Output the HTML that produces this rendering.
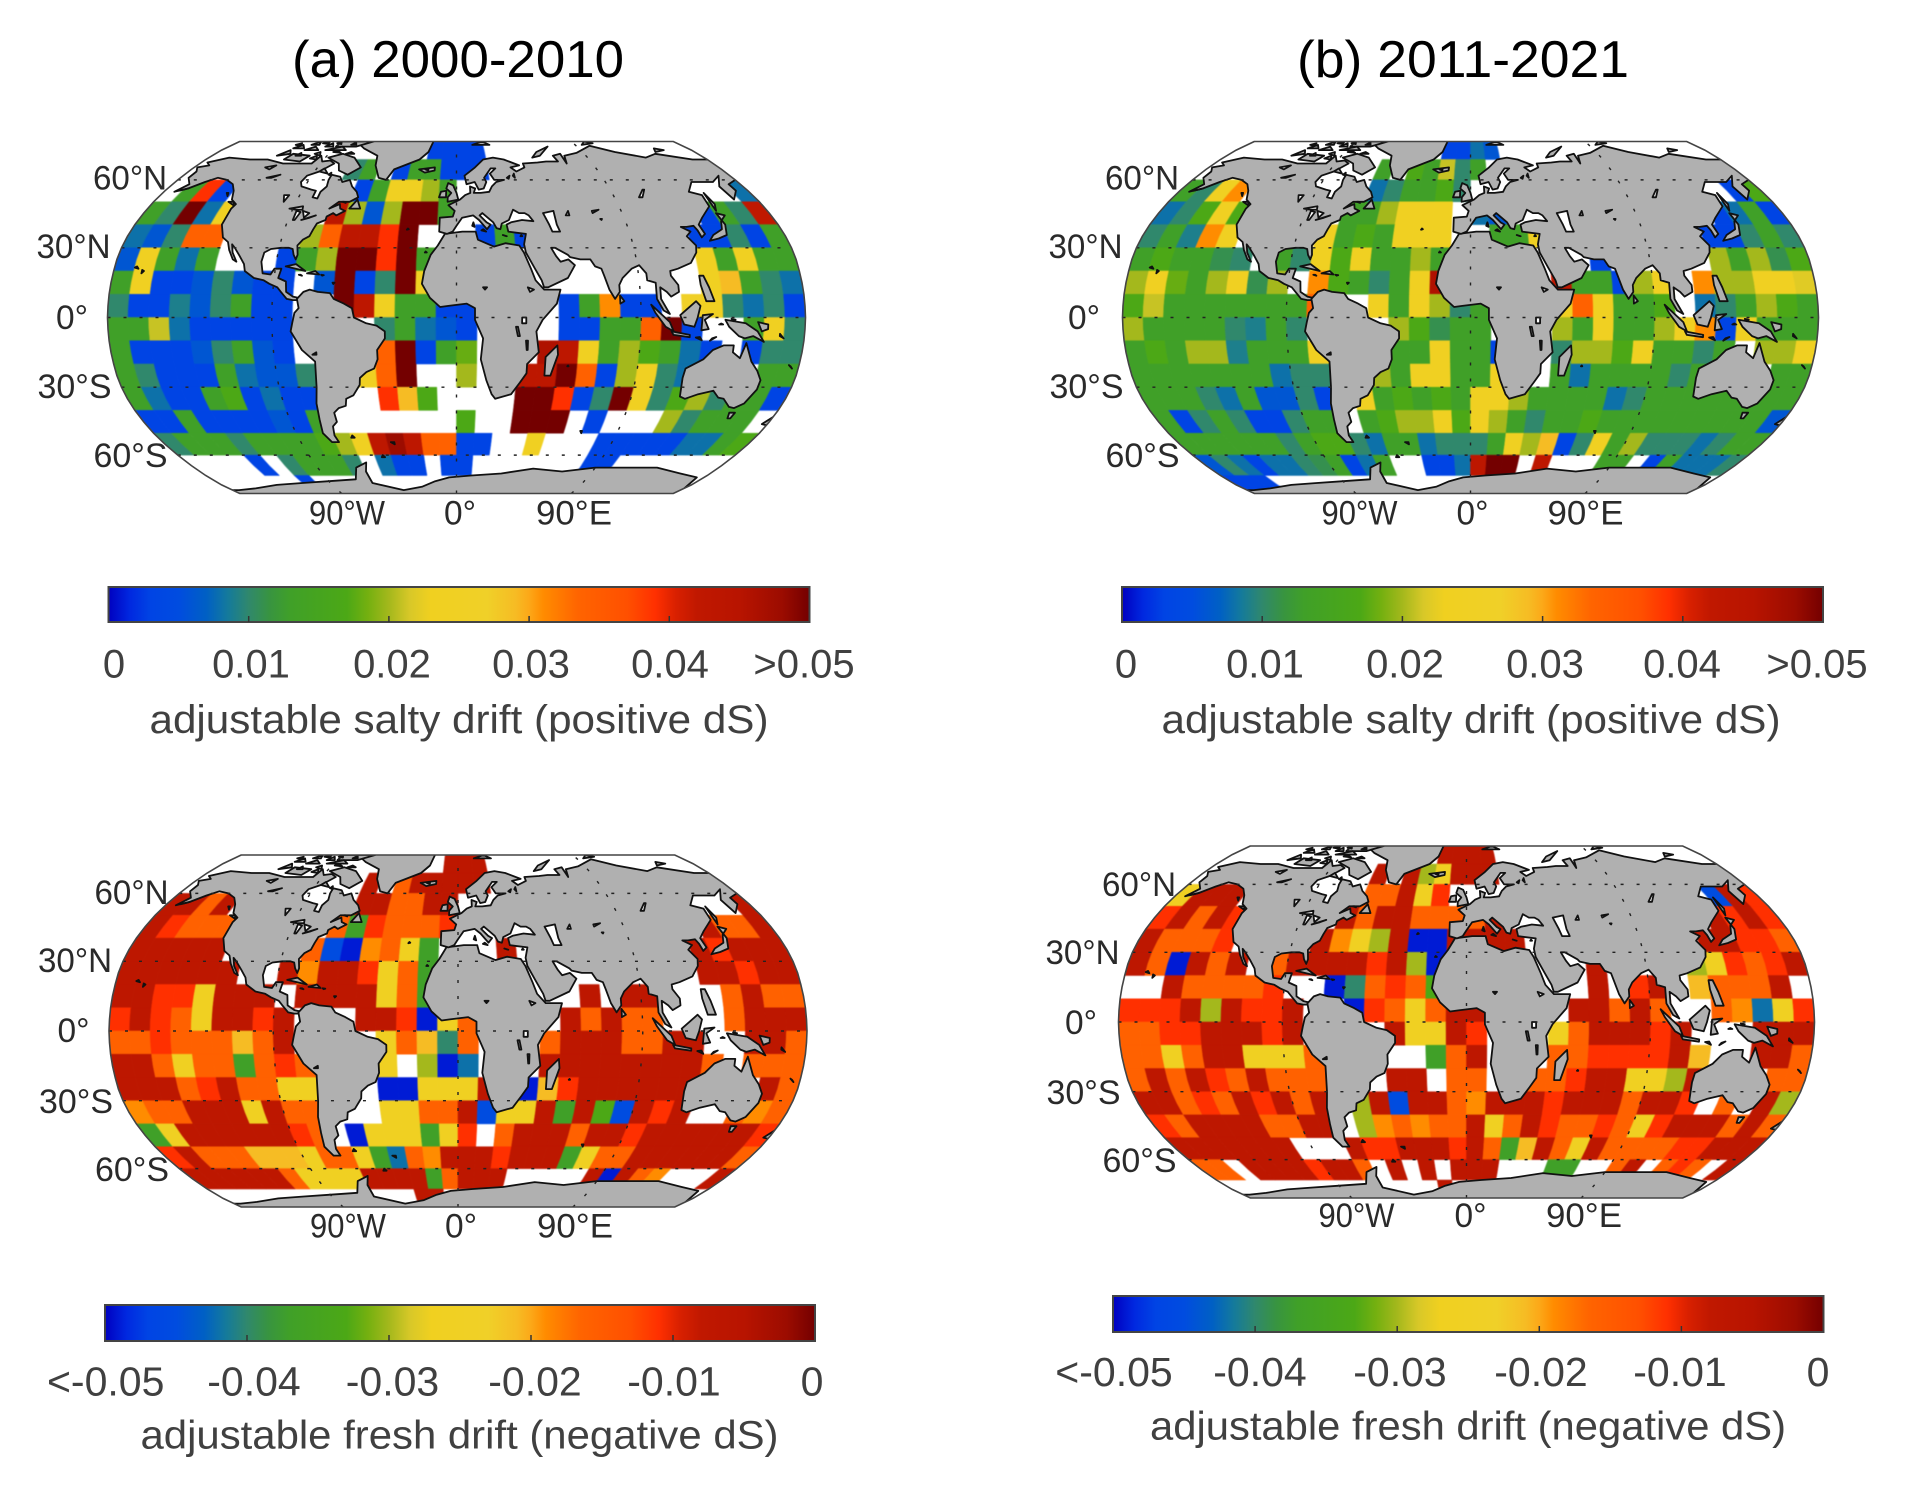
<!DOCTYPE html>
<html lang="en">
<head>
<meta charset="utf-8">
<title>Adjustable salinity drift maps</title>
<style>
html,body{margin:0;padding:0;background:#fff;}
svg{display:block;}
text{font-family:"Liberation Sans",Arial,sans-serif;}
</style>
</head>
<body>
<svg id="chart" width="1906" height="1496" viewBox="0 0 1906 1496" xmlns="http://www.w3.org/2000/svg">
<defs id="defs"></defs>
<text x="458" y="77" font-size="52" fill="#000" text-anchor="middle" textLength="332" lengthAdjust="spacingAndGlyphs">(a) 2000-2010</text>
<text x="1463" y="77" font-size="52" fill="#000" text-anchor="middle" textLength="332" lengthAdjust="spacingAndGlyphs">(b) 2011-2021</text>
</svg>
<script>
// Cell values in units of 0.001 salinity drift. Rows run 80N to 80S in 10 degree bands, 34 longitude columns from 170W to 170E.
const salty2000 = [
[null,null,null,null,null,null,null,null,null,null,null,null,null,null,null,3,3,3,3,null,null,null,null,null,null,null,null,null,null,null,null,null,null,null],
[null,null,null,null,null,null,null,null,null,null,10,13,null,3,13,13,3,3,3,null,null,null,null,null,null,null,null,null,null,null,null,null,null,null],
[null,13,39,3,null,null,null,null,null,null,null,3,13,24,24,20,13,null,null,null,null,null,null,null,null,null,null,null,null,null,null,null,null,8],
[13,10,50,8,24,null,null,null,null,null,43,20,6,20,50,50,13,null,null,null,null,null,null,null,null,null,null,null,null,null,3,13,10,42],
[8,6,10,34,34,null,null,null,null,20,34,43,43,39,50,null,null,null,3,13,3,null,null,null,null,null,null,null,null,3,3,10,3,13],
[6,24,13,8,13,null,null,null,3,13,20,50,50,39,50,13,null,null,null,null,null,null,null,null,null,null,null,null,null,24,13,24,13,13],
[13,24,3,3,6,10,6,3,3,null,6,50,3,10,50,24,null,null,null,null,null,null,null,null,null,null,null,null,null,24,29,13,10,8],
[10,3,3,9,6,10,13,3,3,null,null,50,43,24,13,13,3,3,null,null,null,null,3,13,31,3,3,null,27,24,10,8,10,3],
[13,13,21,8,3,3,3,3,3,null,null,null,null,10,13,8,6,3,null,null,null,null,3,3,13,13,34,50,3,null,null,13,24,10],
[13,3,3,3,6,10,13,6,3,null,null,null,null,34,50,3,13,18,null,null,null,46,43,24,13,20,17,13,8,3,null,3,10,10],
[13,10,3,3,3,13,8,6,6,10,null,null,24,34,50,null,null,20,null,null,43,43,50,34,3,20,24,10,8,null,null,null,13,13],
[13,8,3,3,13,17,3,8,3,3,null,null,null,39,29,17,null,null,null,null,50,50,39,3,10,50,24,10,17,20,10,13,13,3],
[3,3,13,3,3,3,3,6,3,13,null,null,null,null,null,null,null,17,null,null,50,50,50,null,3,null,null,null,20,10,13,13,13,null],
[10,13,13,13,10,13,13,13,13,17,20,24,43,48,43,34,34,3,3,null,null,24,null,null,null,3,3,3,3,3,8,8,13,17],
[null,null,null,null,3,null,10,13,13,13,10,null,8,3,3,null,3,3,null,null,null,null,null,null,null,3,3,null,null,null,null,null,null,null],
[null,null,null,null,null,null,3,null,null,null,null,null,null,null,null,null,null,null,null,null,null,null,null,null,null,null,null,null,null,null,null,null,null,null]
];
const salty2011 = [
[null,null,null,null,null,null,null,null,null,null,null,null,null,null,null,3,3,8,6,null,null,null,null,null,null,null,null,null,null,null,null,null,null,null],
[null,null,null,null,null,null,null,null,null,null,null,13,null,17,13,21,10,13,null,null,null,null,null,null,null,null,null,null,null,null,null,null,null,null],
[13,10,24,31,null,null,null,null,null,null,null,8,10,13,13,17,10,null,null,null,null,null,null,null,null,null,null,null,null,null,null,null,3,17],
[8,10,17,24,17,null,null,null,null,null,13,13,20,24,24,24,null,8,6,null,null,null,null,null,null,null,null,null,null,null,3,8,13,3],
[10,13,9,31,24,null,null,null,null,24,13,17,13,24,24,24,null,null,13,13,24,null,null,null,null,null,null,null,null,3,3,10,13,10],
[13,17,13,13,11,10,null,13,10,24,17,24,13,13,20,13,null,null,null,null,null,null,null,3,null,null,null,null,null,20,13,20,11,17],
[20,24,18,13,20,24,11,20,null,31,17,13,10,13,24,46,null,null,null,null,null,43,13,13,3,20,24,null,31,20,20,24,24,22],
[17,21,13,13,13,13,13,13,13,34,null,null,24,13,24,20,10,13,null,null,null,24,34,24,13,13,17,null,8,10,13,20,17,13],
[20,13,13,13,13,10,9,13,10,null,null,null,null,20,17,11,13,13,null,null,null,20,13,24,13,13,20,24,31,3,24,13,13,13],
[13,17,13,20,20,9,13,13,13,24,null,null,null,13,13,24,13,13,3,null,null,10,20,20,17,24,13,13,10,13,null,20,20,24],
[13,13,13,13,13,13,13,8,10,10,null,null,20,13,24,24,13,13,24,null,null,13,8,13,13,13,13,10,13,null,null,null,13,13],
[13,13,13,10,8,13,6,6,10,3,null,24,13,17,13,17,13,24,24,20,13,13,13,13,8,10,13,13,13,13,13,13,13,13],
[13,3,10,13,10,3,3,10,13,13,null,13,17,20,20,24,17,24,20,13,10,13,13,17,13,13,13,13,13,13,13,13,13,6],
[13,13,13,13,13,13,10,13,17,17,10,8,13,13,8,10,10,10,13,24,20,29,3,10,24,13,20,10,10,10,8,10,13,13],
[6,10,8,3,8,8,10,11,13,3,8,13,null,null,3,3,8,43,50,50,null,43,null,null,null,13,13,null,3,13,8,8,8,10],
[3,3,3,null,null,null,null,null,null,null,null,null,null,null,null,null,null,null,null,null,null,null,null,null,null,null,null,null,null,null,null,null,null,null]
];
const fresh2000 = [
[null,null,null,null,null,null,null,null,null,null,null,null,null,null,null,null,-7,-7,-7,null,null,null,null,null,null,null,null,null,null,null,null,null,null,null],
[null,null,null,null,null,null,null,null,null,null,null,-7,null,-16,-7,-7,-7,-7,-7,null,null,null,null,null,null,null,null,null,null,null,null,null,null,null],
[-7,-7,-16,-7,null,null,null,null,null,null,null,-7,-7,-16,-16,-7,-7,null,null,null,null,null,null,null,null,null,null,null,null,null,null,null,null,-7],
[-7,-11,-16,-16,-16,null,null,null,null,null,-16,-37,-11,-16,-16,-16,-11,null,null,null,null,null,null,null,null,null,null,null,null,null,-7,-16,-16,-7],
[-7,-7,-7,-7,-7,null,null,null,null,-16,-45,-49,-19,-16,-27,-37,null,null,null,-7,null,null,null,null,null,null,null,null,null,-7,-11,-7,-7,-7],
[-7,-7,-7,-7,-7,-7,null,null,-7,-19,-7,-7,-11,-26,-16,-37,null,null,null,null,null,null,null,null,null,null,null,null,null,-7,-7,-11,-7,-7],
[-7,-7,-11,-11,-26,-7,-7,-7,null,-7,-7,-7,-7,-26,-16,-37,-7,null,null,null,null,null,null,-7,null,-7,-7,null,null,null,-16,-7,-16,-16],
[-11,-7,-11,-16,-26,-7,-7,-11,-7,null,null,null,-7,-7,-11,-49,-26,-16,null,null,null,null,-7,-16,-7,-16,-16,null,null,null,-16,-7,-7,-7],
[-16,-16,-11,-16,-16,-16,-21,-16,-7,null,null,null,null,-26,-16,-21,-40,-16,null,null,null,-16,-7,-7,-7,-16,-16,-7,-7,null,null,-7,-7,-16],
[-7,-7,-16,-26,-16,-16,-37,-16,-11,-16,null,null,null,-26,null,-30,-49,-42,null,null,null,-7,-7,-7,-7,-7,-7,-7,-7,-16,null,-16,-16,-16],
[-7,-7,-7,-16,-11,-7,-16,-16,-26,-26,null,null,null,-49,-49,-26,-26,-26,-7,null,-49,-21,-11,-7,-7,-7,-7,-7,-7,null,null,null,-7,-16],
[-19,-16,-16,-7,-7,-7,-26,-7,-16,-16,null,null,null,-26,-26,-16,-16,-7,-45,-26,-26,-7,-37,-7,-33,-45,-7,-11,-7,null,null,-16,-19,-16],
[-37,-26,-7,-7,-7,-7,-7,-7,-11,-16,null,-49,-26,-26,-26,-37,-26,-11,null,-16,-7,-7,-7,-16,-7,-7,-11,-7,-7,-7,-7,-7,-7,-11],
[-11,-7,-16,-16,-16,-21,-21,-21,-26,-16,-16,-26,-37,-42,-16,-19,-7,-7,-7,-11,-7,-7,-7,-37,-26,-16,-16,-7,-7,-7,-7,-7,-7,-16],
[-7,-7,-7,-7,-7,-7,-16,-26,-26,-26,-26,-7,-7,-7,-7,-37,-16,-7,-7,-7,null,null,null,null,null,-7,-49,-7,-16,-19,null,null,null,-7],
[null,null,null,null,null,null,null,null,null,null,null,null,null,null,-7,-7,null,null,null,null,null,null,null,null,null,null,null,null,null,null,null,null,null,null]
];
const fresh2011 = [
[null,null,null,null,null,null,null,null,null,null,null,null,null,null,null,-7,-7,-7,-7,null,null,null,null,null,null,null,null,null,null,null,null,null,null,null],
[null,null,null,null,null,null,null,null,null,null,null,-7,null,-7,-30,-26,-7,-7,-7,null,null,null,null,null,null,null,null,null,null,null,null,null,null,null],
[-26,-7,-7,-7,null,null,null,null,null,null,null,-16,-16,-7,-26,-11,null,null,null,null,null,null,null,null,null,null,null,null,null,null,null,-45,-7,-11],
[-11,-7,-16,-7,-11,null,null,null,null,null,-7,-16,-7,-7,-16,-16,-16,-16,-7,null,null,null,null,null,null,null,null,null,null,null,-7,-11,-7,-11],
[-7,-16,-16,-16,-11,null,null,null,null,-7,-19,-26,-30,-7,-49,-49,-7,-7,-7,-7,null,null,null,null,null,null,null,null,null,-7,-7,-11,-11,-16],
[-7,-16,-49,-7,-16,-7,null,-16,-7,-7,-7,-7,-11,-7,-30,-49,null,null,null,null,null,null,null,-7,null,null,null,null,-30,-26,-11,-16,-11,-7],
[null,null,-7,-16,-16,-16,-16,-11,null,null,-49,-40,-16,-11,-16,-33,null,null,null,null,null,null,null,-7,null,-11,-7,null,-21,-16,-16,-16,-7,null],
[-11,-11,-11,-7,-30,-7,-11,-11,-7,null,null,-49,-11,-16,-26,-16,-7,-7,null,null,null,null,-7,-7,-16,-7,-16,null,null,-16,-19,-42,-26,-11],
[-16,-16,-11,-11,-7,-7,-7,-11,-7,null,null,null,null,-7,-26,-26,-7,-11,null,null,null,-26,-16,-7,-7,-7,-11,-7,null,null,null,-7,-7,-7],
[-16,-16,-26,-16,-7,-7,-26,-26,-26,-16,null,null,null,null,null,-37,-16,-7,null,null,null,-16,-16,-11,-11,-11,-11,-7,-21,null,null,-7,-7,-16],
[-16,-7,-16,-7,-11,-16,-7,-16,-16,-16,null,null,null,-7,-7,null,-16,-16,null,null,-16,-16,-11,-7,-7,-26,-26,-30,-7,null,null,null,-16,-16],
[-7,-7,-16,-11,-16,-7,-11,-7,-16,-7,null,-30,-7,-45,-7,-7,-16,-19,-7,-7,-7,-11,-7,-7,-7,-16,-7,-7,-11,null,-16,null,-7,-30],
[-11,-16,-7,-7,-7,-7,-16,-16,-7,-7,null,-30,-19,-16,-19,-16,-16,-7,-26,-16,-7,-11,-16,-16,-11,-16,-26,-11,-7,-7,-7,-16,-7,-16],
[-7,-7,-7,-7,-7,-7,-7,null,null,null,-7,-11,-11,-7,-7,-7,-11,-7,-16,-37,-21,-7,-16,-26,-7,-16,-16,-16,-16,-11,-11,-7,-7,-7],
[-16,-16,null,-7,-7,-7,-7,-11,-7,-7,-16,null,-7,null,-7,null,-7,-7,-7,null,null,null,-37,-37,null,null,-16,-7,null,-16,-11,-16,null,-7],
[null,null,null,null,null,null,null,null,null,null,null,null,null,null,null,-7,null,null,null,null,null,null,null,null,null,null,null,null,null,null,null,null,null,null]
];
const saltyTickLabels = ["0","0.01","0.02","0.03","0.04",">0.05"];
const freshTickLabels = ["<-0.05","-0.04","-0.03","-0.02","-0.01","0"];
const latTickValues = [60,30,0,-30,-60];
const latTickLabels = ["60°N","30°N","0°","30°S","60°S"];
const lonTickValues = [-90,0,90];
const lonTickLabels = ["90°W","0°","90°E"];

// Coastline outlines as [lon,lat] pairs.
const landPolygons = [
[[-168,66],[-162,67],[-166,68.5],[-156,71],[-140,70],[-128,70],[-115,68],[-108,68],[-96,68],[-94,72],[-90,69],[-85,69.5],[-81,68],[-87,64],[-93,62],[-94,59],[-92,57],[-85,55.5],[-82,55],[-82,52],[-79,51.5],[-79,54.5],[-77,57],[-78,60],[-78,62.5],[-72,61.5],[-69,59],[-65,60],[-62,57],[-58,54.5],[-56,52],[-60,50],[-66,50],[-70,47],[-65,49],[-64,47],[-61,46],[-65,44],[-67,45],[-70,43.5],[-70,42],[-74,40.5],[-75,38],[-76,35],[-79,33.5],[-81,31],[-80,27],[-80.5,25],[-82,27],[-83,29.5],[-85,30],[-89,30],[-94,29.5],[-97,28],[-97.5,24],[-96,19],[-92,18.5],[-90.5,21],[-87,21],[-88,17],[-84,15.5],[-83.5,11],[-80,9],[-77.5,8.5],[-78,7.5],[-80,7.5],[-83,8],[-86,11],[-88,13],[-92,14.5],[-95,16],[-100,17],[-105,20],[-106,23],[-109,26.5],[-112.5,30],[-114.5,31.5],[-113,28],[-110,24],[-112,25],[-115,29],[-117,32.5],[-120.5,34.5],[-124,40],[-124,47],[-123,49],[-127,51],[-130,55],[-134,58],[-140,60],[-147,61],[-152,59],[-158,56],[-164,54.5],[-160,58],[-165,61],[-165,64]],
[[-78,8],[-75,11],[-72,12],[-68,11],[-62,10.5],[-60,8],[-55,6],[-51,4],[-50,0],[-44,-2.5],[-39,-3.5],[-35,-6],[-35,-9],[-39,-14],[-39,-18],[-41,-22],[-45,-23.5],[-48.5,-26],[-49,-29],[-53,-33.5],[-57,-35],[-58,-38],[-62,-39],[-65,-41],[-65,-45],[-68,-47],[-69,-51],[-68,-54],[-72,-54],[-75,-50],[-74,-44],[-73,-37],[-71,-30],[-70,-19],[-76,-14],[-81,-6],[-80,-2],[-79,2],[-77,4]],
[[-6,36],[3,37],[10,37],[11,33.5],[19,30.5],[25,32],[32,31],[34,28],[37,21],[39,16],[43,12],[51,12],[49,6],[42,-1],[39,-6],[40.5,-15],[35,-20],[35,-24],[32,-28],[28,-33],[20,-35],[18,-33],[15,-27],[12,-18],[13,-9],[9,-1],[9,4],[5,6],[-4,5],[-8,4.5],[-13,8.5],[-17,14.5],[-16,20],[-13,27],[-9.5,31]],
[[-9,37],[-9,43],[-2,43.5],[-1,46],[-4.5,48.5],[2,51],[5,53],[8,54],[8,57],[11,56],[10,54],[14,54],[19,54.5],[21,57],[24,59],[29,60],[23,60],[21,63],[25,65.5],[22,65.5],[17,61],[18,59],[16,56],[13,55.5],[11,59],[6,58],[5,62],[12,66],[18,70],[25,71],[32,70],[41,67],[35,66],[38,64],[44,66],[44,68],[54,68.5],[60,69],[68,69],[67,72],[73,73],[73,68],[75,72],[85,73.5],[100,77.5],[113,74],[130,71],[140,73],[160,70],[170,70],[180,69],[180,65],[178,62.5],[170,60],[163,58],[163,55],[157,51],[156,57],[163,62],[155,59],[142,59],[135,54.5],[141,53],[140,48],[132,43],[128,40],[129,36],[126.5,34.5],[126,37.5],[125,39.5],[121,39],[118,39],[122,37],[119,35],[122,31],[121,28],[117,23.5],[110,21],[106,20],[106,18],[109,14],[109,11],[105,9],[103,11],[100,13],[100,8],[103,3],[104,1.5],[101,3],[98,8],[98,15],[94,16],[94,19],[91,22.5],[87,21],[82,17],[80,14],[80,11],[77.5,8],[75,12],[73,18],[72,21],[69,22],[67,25],[62,25],[57,26],[56,27],[50,30],[48,30],[50,26.5],[52,24],[56,25],[59,22.5],[55,17],[45,13],[43,13],[42,16],[39,21],[35,28],[34.5,31.5],[36,36],[31,36.5],[27,37],[26.5,40],[29,41],[35,42],[41,41.5],[39,44],[37,45],[34,45],[31,46.5],[28,42],[24,40.5],[23,38],[21,38.5],[19.5,41],[14,45],[12.5,44],[16,41],[18,40],[16,38],[12,42],[9,44],[3,43],[0,39.5],[-2,37],[-5,36]],
[[-73,78],[-60,82],[-30,83],[-18,80],[-20,74],[-25,70],[-40,65],[-43,60],[-48,61],[-53,67],[-55,72],[-68,76]],
[[114,-22],[122,-18],[126,-14],[131,-12],[136,-12],[136,-15],[140,-17.5],[142,-11],[146,-19],[150,-23],[153,-27],[153,-31],[150,-37],[146,-39],[143,-38.5],[138,-35],[135,-34.5],[131,-31.5],[124,-33],[118,-35],[115,-34],[113.5,-26]],
[[145,-41],[148,-41],[147.5,-43.5],[146,-43.5]],
[[173,-35],[178,-38],[175,-41.5],[174,-39]],
[[172,-41],[174,-42],[170,-46.5],[167,-46]],
[[131,-1],[141,-2.5],[147,-6],[150.5,-10.5],[145,-8],[141,-9],[138,-8],[133,-4]],
[[109,1],[117,7],[119,5],[117.5,0],[116,-4],[111,-3]],
[[95,5.5],[104,-2],[106,-6],[102,-4],[97,2]],
[[105,-6],[114,-7.5],[114,-8.5],[106,-7.5]],
[[119.5,-5.5],[120,1],[125,1.5],[121,-1],[123,-5]],
[[120,18],[122,18],[124,13],[126,7],[122,7],[120,14]],
[[130,33],[135,34],[140,35.5],[142,40],[141,45],[145,44],[141,41.5],[139,38],[133,35.5]],
[[142,46],[143,54],[144,49]],
[[49.5,-12],[50,-16],[47,-25],[44,-25],[44,-17]],
[[80,9.5],[82,7],[80,6]],
[[-5,50],[1,51],[0,54],[-2,57.5],[-5,58.5],[-6,56],[-3,54],[-5,52]],
[[-10,52],[-6,52],[-6,55],[-9,54.5]],
[[-24,65],[-14,66],[-14,64.5],[-20,63.5]],
[[-85,22],[-75,20],[-80,23]],
[[-74,19],[-68,18.5],[-70,20]],
[[-180,-90],[180,-90],[180,-78],[170,-77],[165,-71],[150,-69],[130,-66],[110,-66],[90,-66],[70,-68],[50,-66.5],[30,-69],[10,-70],[-5,-71],[-15,-73],[-25,-76],[-40,-78],[-60,-74],[-60,-68],[-57,-63.5],[-65,-66],[-70,-72],[-90,-73],[-110,-74],[-130,-75],[-150,-77],[-165,-78],[-180,-78]],
[[-80,73],[-70,71],[-62,66],[-68,62.5],[-75,64.5],[-78,68],[-88,71]],
[[-117,70],[-105,69],[-102,72],[-115,73]],
[[-125,72],[-117,73],[-120,75]],
[[-90,77],[-75,77],[-65,80],[-90,80]],
[[-95,75],[-80,75],[-85,77]],
[[-87,64],[-81,63],[-85,65.5]],
[[-110,75],[-100,75],[-105,77]],
[[-100,73],[-95,72],[-97,74]],
[[-120,76],[-112,76],[-116,78]],
[[-98,77],[-92,77],[-95,79]],
[[-110,78],[-104,78],[-106,80]],
[[-103,79],[-98,78.5],[-99,80]],
[[-88,74],[-82,73.5],[-85,74.5]],
[[-100,70.5],[-95,70],[-97,72]],
[[-78,73],[-72,73],[-75,74]],
[[-122,78],[-118,77.5],[-119,79]],
[[-92,79],[-88,78.5],[-90,80]],
[[-80,78],[-76,78],[-78,79.5]],
[[-112,72],[-108,72],[-110,73.5]],
[[-80,62.5],[-78,62],[-79,63.5]],
[[-59,47],[-53,47],[-56,51]],
[[-64,50],[-62,49.5],[-63,50]],
[[-128,50],[-124,48.5],[-125,50]],
[[-133,54],[-131,52.5],[-132,54]],
[[52,71],[57,74],[68,77],[58,72]],
[[12,78],[25,78],[20,80]],
[[142,74],[150,75],[145,76]],
[[95,78],[105,79],[100,80]],
[[-156,19],[-155,20],[-156,20.5]],
[[-160,21.5],[-158,21],[-159,22]],
[[166,-21],[167,-22],[165,-20.5]],
[[177,-18],[179,-18],[178,-17]],
[[158,-8],[160,-9],[158,-7]],
[[-60,-52],[-58,-52],[-59,-51]],
[[69,-49],[70,-50],[70,-49]],
[[-38,-54],[-36,-55],[-36,-54]],
[[-46,-61],[-44,-61],[-45,-60]],
[[14,38],[15.5,37],[13,37.5]],
[[9,41],[9.6,39],[8.3,39.5]],
[[24,35.5],[26,35],[25,35.2]],
[[33,35],[34,35],[33.5,35.5]],
[[55,-21],[55.7,-21],[55.4,-20.6]],
[[-25,38],[-26,37.8],[-25.5,38.3]],
[[-16,28],[-15,28],[-15.6,28.4]],
[[-61,15],[-60,15],[-60.6,14.4]],
[[-67,18.4],[-65.6,18.2],[-66.4,18]],
[[-78,18.4],[-76.4,18],[-77,18.4]],
[[-162,55],[-160,55.4],[-158,56]],
[[128,-3],[130,-3],[129,-2.6]],
[[125,-9],[127,-8.4],[124,-10]],
[[117,-8.6],[119,-8.4],[120,-9.8]],
[[147,-2],[152,-3],[152,-5],[149,-6]],
[[136,-1],[134,-0.6],[135,-1.6]]
];
// Inland water drawn white over land.
const lakePolygons = [
[[47,45],[53,46],[53,40],[54,37],[50,37],[49,40]],
[[59,44],[61,46],[61,44]],
[[-92,47],[-85,48],[-84.5,46.5],[-88,46.5]],
[[-87.5,46],[-85,45.5],[-86.5,42],[-87.5,42]],
[[-84,46],[-80,45],[-82,43]],
[[-83,42],[-76,44],[-79,43]],
[[-124,66],[-118,67],[-120,65]],
[[-117,61],[-110,62.5],[-114,61]],
[[-99,53],[-96,53],[-97,50]],
[[104,52],[106,52],[110,55.5],[109,55.5]],
[[32,0],[34,0],[34,-2.5],[32,-2.5]],
[[29,-4],[30,-4],[31,-8],[30,-8]],
[[34,-10],[35,-10],[35,-14],[34.5,-14]],
[[74,46],[78,46.5],[74,45]],
[[77,42.5],[78,42.5],[77.5,42]],
[[35,13],[38,12],[36,11]],
[[13,13],[15,13],[14,12]],
[[-71,-16],[-69,-16],[-69,-15]],
[[31,61],[33,62],[32,60.5]],
[[35,62],[36,63],[36,61]],
[[-20,65],[-18,65.5],[-18,64.5]]
];

const ROBINSON_WIDTH = [1,0.9986,0.9954,0.99,0.9822,0.973,0.96,0.9427,0.9216,0.8962,0.8679,0.835,0.7986,0.7597,0.7186,0.6732,0.6213,0.5722,0.5322];
const ROBINSON_HEIGHT = [0,0.062,0.124,0.186,0.248,0.31,0.372,0.434,0.4958,0.5571,0.6176,0.6769,0.7346,0.7903,0.8435,0.8936,0.9394,0.9761,1];
const colorStops = [[0,"#0000c0"],[1.5,"#0028e0"],[3,"#0044e4"],[5,"#004ce0"],[7,"#0060c4"],[8.5,"#147a9c"],[10,"#30886c"],[11.5,"#389440"],[13,"#40a028"],[17,"#4ca816"],[18.5,"#74b010"],[20,"#a4b81c"],[21.5,"#d8c828"],[23,"#f0d020"],[27,"#f0d028"],[29,"#f6bc24"],[30,"#fca818"],[31,"#ff8c00"],[33.5,"#ff6400"],[37,"#ff5000"],[39,"#ff3000"],[40.5,"#d82000"],[42,"#c01800"],[45,"#b81400"],[48,"#9c0c00"],[50,"#740000"]];
const LON_LIMIT = 170;

const svg = document.getElementById("chart");
const defs = document.getElementById("defs");
const SVGNS = "http://www.w3.org/2000/svg";

function mk(tag, attrs, parent) {
  const el = document.createElementNS(SVGNS, tag);
  for (const key in attrs) el.setAttribute(key, attrs[key]);
  if (parent) parent.appendChild(el);
  return el;
}
function robinson(table, lat) {
  const a = Math.min(90, Math.abs(lat)) / 5;
  const i = Math.min(17, Math.floor(a));
  return table[i] + (table[i + 1] - table[i]) * (a - i);
}
function xScale(p, lon, lat) {
  return p.cx + p.hw * (lon / LON_LIMIT) * robinson(ROBINSON_WIDTH, lat);
}
function yScale(p, lat) {
  return p.cy - Math.sign(lat) * p.hh * robinson(ROBINSON_HEIGHT, lat) / robinson(ROBINSON_HEIGHT, 80);
}
function pt(p, lon, lat) {
  return xScale(p, lon, lat).toFixed(1) + "," + yScale(p, lat).toFixed(1);
}
function hexRgb(h) {
  return [parseInt(h.slice(1, 3), 16), parseInt(h.slice(3, 5), 16), parseInt(h.slice(5, 7), 16)];
}
function colorAt(pos) {
  const v = Math.max(0, Math.min(50, pos));
  for (let i = 0; i < colorStops.length - 1; i++) {
    const a = colorStops[i], b = colorStops[i + 1];
    if (v <= b[0]) {
      const t = (v - a[0]) / (b[0] - a[0]);
      const ca = hexRgb(a[1]), cb = hexRgb(b[1]);
      return "rgb(" + ca.map((c, j) => Math.round(c + (cb[j] - c) * t)).join(",") + ")";
    }
  }
  return colorStops[colorStops.length - 1][1];
}

function outlinePoints(p) {
  const out = [];
  for (let lat = 80; lat >= -80; lat -= 5) out.push(pt(p, -LON_LIMIT, lat));
  for (let lat = -80; lat <= 80; lat += 5) out.push(pt(p, LON_LIMIT, lat));
  return out.join(" ");
}

function drawMap(p, rows, offset, id) {
  const clip = mk("clipPath", { id: "clip-" + id }, defs);
  mk("polygon", { points: outlinePoints(p) }, clip);

  const g = mk("g", { "clip-path": "url(#clip-" + id + ")" }, svg);
  
  
  const cells = mk("g", { style: "filter:blur(0.5px)" }, g);
  
  

  rows.forEach((row, r) => {
    const latN = 80 - 10 * r, latS = latN - 10, latM = latN - 5;
    row.forEach((value, k) => {
      if (value === null) return;
      const w = -LON_LIMIT + k * 10, e = w + 10;
      const fill = colorAt(value + offset);
      const cell = mk("polygon", {
        points: [pt(p, w, latN), pt(p, e, latN), pt(p, e, latM), pt(p, e, latS), pt(p, w, latS), pt(p, w, latM)].join(" "),
        fill: fill, stroke: fill, "stroke-width": 0.5
      }, cells);
      
      
    });
  });

  const land = mk("g", {}, g);
  
  
  landPolygons.forEach(poly => {
    const shape = mk("polygon", {
      points: poly.map(c => pt(p, c[0], c[1])).join(" "),
      fill: "#b0b0b0", stroke: "#111", "stroke-width": 1.8, "stroke-linejoin": "round"
    }, land);
    
    
  });
  lakePolygons.forEach(poly => {
    const shape = mk("polygon", {
      points: poly.map(c => pt(p, c[0], c[1])).join(" "),
      fill: "#fff", stroke: "#111", "stroke-width": 1.8, "stroke-linejoin": "round"
    }, land);
    
    
  });

  latTickValues.forEach(lat => {
    const line = mk("line", {
      x1: xScale(p, -LON_LIMIT, lat), x2: xScale(p, LON_LIMIT, lat), y1: yScale(p, lat), y2: yScale(p, lat),
      stroke: "#222", "stroke-width": 1.4, "stroke-dasharray": "3 13"
    }, g);
    
    
  });
  lonTickValues.forEach(lon => {
    const pts = [];
    for (let lat = -80; lat <= 80; lat += 5) pts.push(pt(p, lon, lat));
    const line = mk("polyline", {
      points: pts.join(" "), fill: "none",
      stroke: "#222", "stroke-width": 1.4, "stroke-dasharray": "3 13"
    }, g);
    
    
  });

  const frame = mk("polygon", { points: outlinePoints(p), fill: "none", stroke: "#444", "stroke-width": 1.6 }, svg);
  
  

  const latEnds = [-289.5, -346, -368.5, -345, -289];
  latTickLabels.forEach((label, i) => {
    const t = mk("text", {
      x: p.cx + latEnds[i] + p.latShift, y: p.cy + p.latDy[i] + 12, "font-size": 34, fill: "#2a2a2a", "text-anchor": "end", textLength: i === 2 ? 32 : 74, lengthAdjust: "spacingAndGlyphs"
    }, svg);
    t.textContent = label;
    
    
  });
  lonTickLabels.forEach((label, i) => {
    const t = mk("text", {
      x: p.cx + p.lonX[i], y: p.cy + p.lonDy + 12, "font-size": 34, fill: "#2a2a2a", "text-anchor": "middle", textLength: i === 1 ? 32 : 76, lengthAdjust: "spacingAndGlyphs"
    }, svg);
    t.textContent = label;
    
    
  });
}

function drawColorbar(b, labels, title, id) {
  const grad = mk("linearGradient", { id: "cb-" + id, x1: 0, x2: 1, y1: 0, y2: 0 }, defs);
  colorStops.forEach(s => mk("stop", { offset: s[0] / 50, "stop-color": s[1] }, grad));
  const bar = mk("rect", { x: b.x0, y: b.y0, width: b.x1 - b.x0, height: b.y1 - b.y0, fill: "url(#cb-" + id + ")", stroke: "#444", "stroke-width": 2 }, svg);
  
  
  labels.forEach((label, i) => {
    const f = i / (labels.length - 1);
    if (i > 0 && i < labels.length - 1) {
      const tx = b.x0 + f * (b.x1 - b.x0);
      const tick = mk("line", { x1: tx, x2: tx, y1: b.y1, y2: b.y1 - 6, stroke: "#333", "stroke-width": 1.5 }, svg);
      
      
    }
    const t = mk("text", { x: b.labelX[i], y: b.labelY, "font-size": b.size, fill: "#404040", "text-anchor": "middle" }, svg);
    t.textContent = label;
    
    
  });
  const t = mk("text", { x: b.titleX, y: b.titleY, "font-size": 40, fill: "#404040", "text-anchor": "middle", textLength: b.titleW, lengthAdjust: "spacingAndGlyphs" }, svg);
  t.textContent = title;
  
  
}

drawMap({ cx: 456.5, cy: 317.5, hw: 349, hh: 176, latDy: [-140,-71.4,-0.7,68.6,137.4], latShift: 0, lonDy: 195, lonX: [-109.5,3.5,117.5] }, salty2000, 0, "a-salty");
drawMap({ cx: 1470.5, cy: 317.5, hw: 348, hh: 176, latDy: [-140,-71.4,-0.7,68.6,137.4], latShift: -2, lonDy: 195, lonX: [-111,2,115] }, salty2011, 0, "b-salty");
drawMap({ cx: 458, cy: 1031, hw: 349, hh: 176, latDy: [-139,-71,-1,70,138], latShift: 0, lonDy: 194.5, lonX: [-110,3,117] }, fresh2000, 50, "a-fresh");
drawMap({ cx: 1466.5, cy: 1022, hw: 348, hh: 176, latDy: [-138,-70,0,70,138], latShift: -1, lonDy: 193, lonX: [-110,4,117.5] }, fresh2011, 50, "b-fresh");

drawColorbar({ x0: 108.5, x1: 809.5, y0: 587, y1: 622, labelX: [114,251,392,531,670,804], labelY: 677.5, size: 40, titleX: 459, titleY: 733, titleW: 619 }, saltyTickLabels, "adjustable salty drift (positive dS)", "a-salty");
drawColorbar({ x0: 1122, x1: 1823, y0: 587, y1: 622, labelX: [1126,1265,1405,1545,1682,1817], labelY: 677.5, size: 40, titleX: 1471, titleY: 733, titleW: 619 }, saltyTickLabels, "adjustable salty drift (positive dS)", "b-salty");
drawColorbar({ x0: 105, x1: 815, y0: 1305, y1: 1341, labelX: [105.7,254,392.5,535,674,812], labelY: 1395.5, size: 41, titleX: 459.5, titleY: 1448.5, titleW: 638 }, freshTickLabels, "adjustable fresh drift (negative dS)", "a-fresh");
drawColorbar({ x0: 1113, x1: 1823.5, y0: 1296, y1: 1332, labelX: [1114,1260,1400,1541,1680,1818], labelY: 1386, size: 41, titleX: 1468, titleY: 1439.5, titleW: 636 }, freshTickLabels, "adjustable fresh drift (negative dS)", "b-fresh");
</script>
</body>
</html>
